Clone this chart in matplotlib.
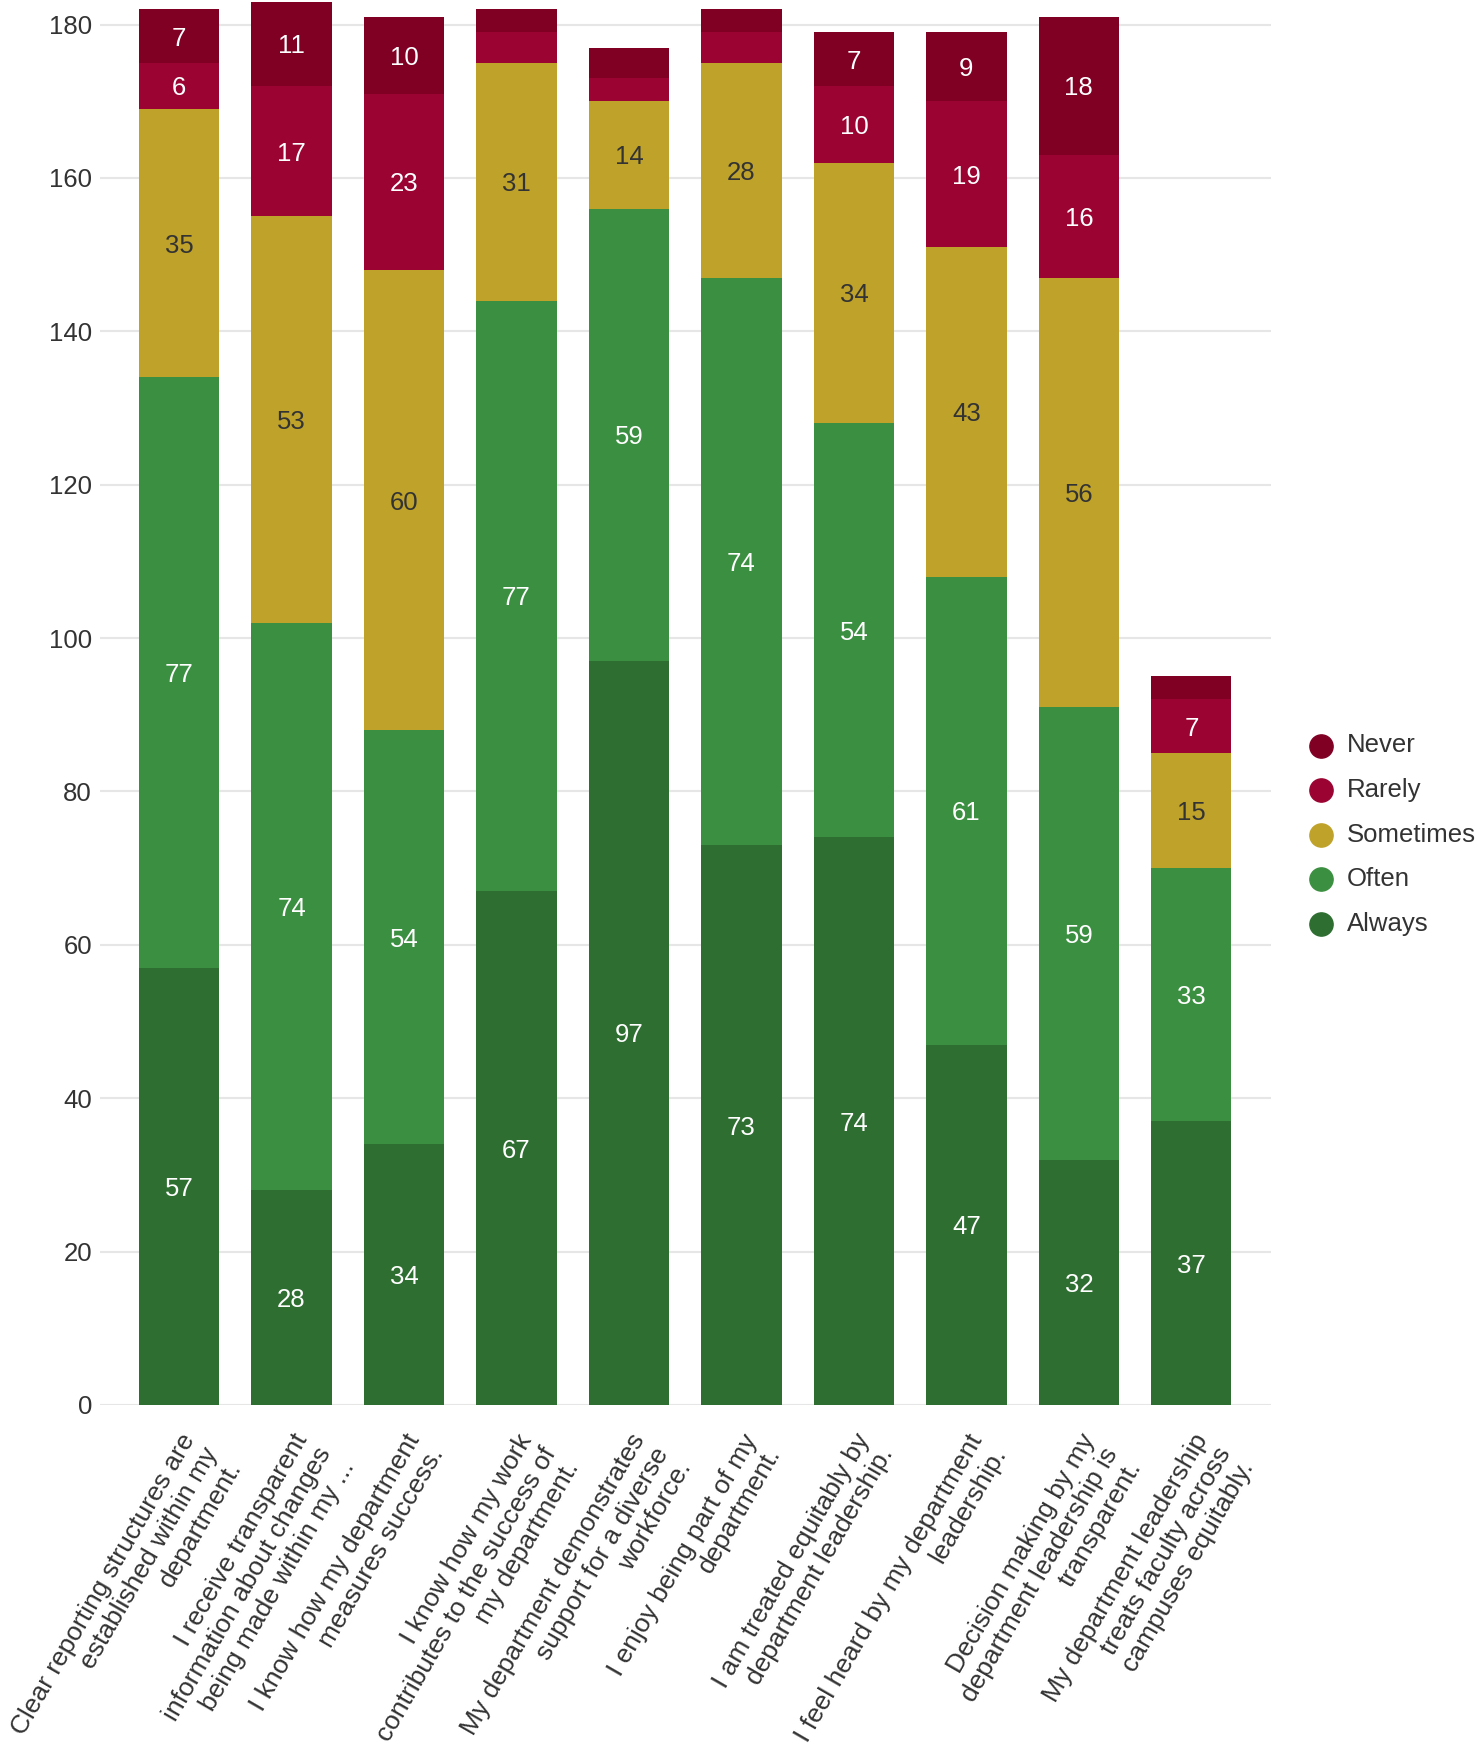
import numpy as np
import matplotlib.pyplot as plt

plt.rcParams['font.family'] = ['Liberation Sans', 'DejaVu Sans']

# Вопросы анкеты (подписи оси X)
questions = [
    "Clear reporting structures are\nestablished within my\ndepartment.",
    "I receive transparent\ninformation about changes\nbeing made within my ...",
    "I know how my department\nmeasures success.",
    "I know how my work\ncontributes to the success of\nmy department.",
    "My department demonstrates\nsupport for a diverse\nworkforce.",
    "I enjoy being part of my\ndepartment.",
    "I am treated equitably by\ndepartment leadership.",
    "I feel heard by my department\nleadership.",
    "Decision making by my\ndepartment leadership is\ntransparent.",
    "My department leadership\ntreats faculty across\ncampuses equitably.",
]

# Ответы (снизу вверх в стопке)
always    = [57, 28, 34, 67, 97, 73, 74, 47, 32, 37]
often     = [77, 74, 54, 77, 59, 74, 54, 61, 59, 33]
sometimes = [35, 53, 60, 31, 14, 28, 34, 43, 56, 15]
rarely    = [6, 17, 23, 4, 3, 4, 10, 19, 16, 7]
never     = [7, 11, 10, 3, 4, 3, 7, 9, 18, 3]

series = [
    ('Always', always, '#2e6e31', 'white'),
    ('Often', often, '#3b8f40', 'white'),
    ('Sometimes', sometimes, '#bfa22a', '#333333'),
    ('Rarely', rarely, '#9a0332', 'white'),
    ('Never', never, '#800024', 'white'),
]

fig = plt.figure(figsize=(14.84, 17.47), dpi=100)
ax = fig.add_axes([0.0676, 0.1958, 0.789, 0.8042])

x = np.arange(len(questions))
bottom = np.zeros(len(questions))
handles = {}
for name, vals, color, tcolor in series:
    vals = np.array(vals)
    ax.bar(x, vals, bottom=bottom, width=0.714, color=color, zorder=2)
    for xi, b, v in zip(x, bottom, vals):
        if v >= 5:
            ax.text(xi, b + v / 2, str(v), ha='center', va='center_baseline',
                    color=tcolor, fontsize=18.5, zorder=3)
    handles[name] = ax.scatter([], [], s=280, color=color, label=name)
    bottom += vals

ax.set_xlim(-0.70, 9.71)
ax.set_ylim(0, 183.2)
ax.set_yticks(np.arange(0, 181, 20))
ax.yaxis.grid(True, color='#e6e6e6', linewidth=1.5, zorder=0)
ax.tick_params(axis='y', length=0, labelsize=18.5, colors='#333333', pad=6)
ax.tick_params(axis='x', length=0, pad=18)
for s in ax.spines.values():
    s.set_visible(False)

ax.set_xticks(x)
ax.set_xticklabels(questions, rotation=60, ha='right', va='top',
                   rotation_mode='anchor', fontsize=19, color='#333333',
                   multialignment='right', linespacing=1.15)

order = ['Never', 'Rarely', 'Sometimes', 'Often', 'Always']
ax.legend([handles[n] for n in order], order, loc='center left',
          bbox_to_anchor=(1.025, 0.406), frameon=False, fontsize=18.5,
          labelcolor='#333333', handlelength=0.8, handletextpad=0.6,
          labelspacing=0.8, borderaxespad=0)

fig.savefig('out.png', dpi=100)
